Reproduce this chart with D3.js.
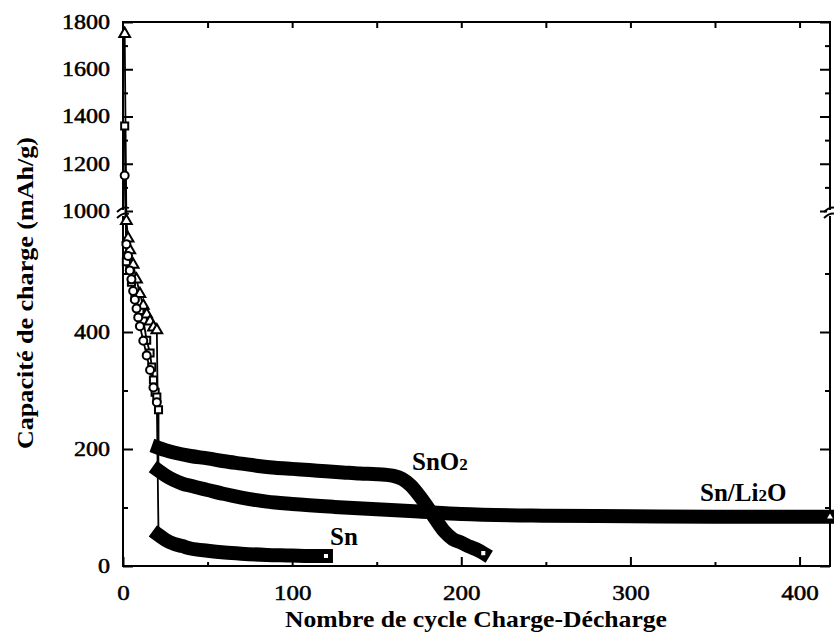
<!DOCTYPE html>
<html><head><meta charset="utf-8">
<script src="https://cdn.jsdelivr.net/npm/d3@7"></script>
<style>
body{margin:0;background:#fff} svg{display:block}
svg text{font-family:"Liberation Serif","Times New Roman",Times,serif !important;}
</style>
</head><body>
<svg id="chart" width="834" height="637"></svg>
<script>
// ---------- data ----------
const xTickValues = [0, 100, 200, 300, 400];
const xMinorTicks = [50, 150, 250, 350];
const topTicks = [50, 100, 150, 200, 250, 300, 350, 400];
const yTickValues = [0, 200, 400, 1000, 1200, 1400, 1600, 1800];
const yMinorTicks = [100, 300, 500, 1100, 1300, 1500, 1700];

// early cycles (open markers)
const snO2EarlyCycles = [1, 2, 4, 5, 7, 10, 12, 14, 16, 17, 18, 19, 20, 21];
const snO2EarlyValues = [1360, 520, 506, 485, 460, 437, 420, 386, 364, 340, 318, 297, 289, 267];
const snLi2OEarlyCycles = [1, 2, 3, 4, 6, 8, 10, 12, 14, 16, 18, 20];
const snLi2OEarlyValues = [1750, 590, 560, 540, 515, 490, 465, 445, 430, 418, 408, 403];
const snEarlyCycles = [1, 2, 3, 4, 5, 6, 7, 8, 9, 10, 12, 14, 16, 18, 20];
const snEarlyValues = [1150, 550, 530, 505, 490, 470, 455, 440, 425, 410, 385, 360, 335, 305, 280];

// long-term cycling (dense markers forming a band)
const snO2Cycles = [21, 25, 30, 40, 50, 60, 70, 80, 90, 100, 110, 120, 130, 140, 150, 155, 160, 165, 170, 175, 180, 185, 190, 195, 200, 205, 210, 213];
const snO2Values = [202, 198, 194, 188, 184, 179, 175, 171, 168, 166, 164, 162, 160, 158, 157, 156, 154, 149, 138, 121, 101, 79, 59, 46, 40, 33, 27, 22];
const snLi2OCycles = [21, 25, 30, 35, 40, 50, 60, 70, 85, 100, 125, 150, 175, 200, 250, 300, 350, 400, 418];
const snLi2OValues = [163, 155, 147, 141, 137, 130, 123, 117, 110, 106, 101, 97, 93, 89, 86, 85, 84, 84, 84];
const snCycles = [21, 25, 30, 35, 40, 50, 60, 70, 85, 100, 110, 120];
const snValues = [53, 45, 38, 34, 30, 26, 23, 21, 19, 18, 17, 17];

const xTitle = "Nombre de cycle Charge-Décharge";
const yTitle = "Capacité de charge (mAh/g)";

// ---------- drawing ----------
const svg = d3.select("#chart");
svg.append("rect").attr("width", 834).attr("height", 637).attr("fill", "#fff");
const FONT = "Liberation Serif";

const L = 123, R = 830, T = 22, B = 566;
const x = d3.scaleLinear().domain([0, 418]).range([L, R]);
// broken axis: 0-600 below, 1000-1800 above
const y = d3.scaleLinear().domain([0, 600, 1000, 1800]).range([B, 215, 211, T]);

const zip = (c, v) => c.map((d, i) => ({c: d, v: v[i]}));

// frame
svg.append("rect").attr("x", L).attr("y", T).attr("width", R - L).attr("height", B - T)
  .attr("fill", "none").attr("stroke", "#000").attr("stroke-width", 2);

function styleAxis(g) {
  g.attr("font-family", FONT);
  g.select(".domain").remove();
  g.selectAll(".tick line").attr("stroke", "#000").attr("stroke-width", 2);
}

// bottom
svg.append("g").attr("transform", `translate(0,${B})`)
  .call(d3.axisBottom(x).tickValues(xTickValues).tickSizeInner(-9).tickSizeOuter(0).tickPadding(19).tickFormat(d3.format("d")))
  .call(styleAxis)
  .call(g => g.selectAll("text").attr("font-family", FONT).attr("font-size", 21).attr("fill", "#000")
      .attr("stroke", "#000").attr("stroke-width", 0.5)
      .attr("textLength", function() { return this.textContent.length * 12.5; })
      .attr("lengthAdjust", "spacingAndGlyphs"));
svg.append("g").attr("transform", `translate(0,${B})`)
  .call(d3.axisBottom(x).tickValues(xMinorTicks).tickSizeInner(-4).tickSizeOuter(0).tickFormat(""))
  .call(styleAxis);
// top
svg.append("g").attr("transform", `translate(0,${T})`)
  .call(d3.axisTop(x).tickValues(topTicks).tickSizeInner(-6).tickSizeOuter(0).tickFormat(""))
  .call(styleAxis);
// left
svg.append("g").attr("transform", `translate(${L},0)`)
  .call(d3.axisLeft(y).tickValues(yTickValues).tickSizeInner(-10).tickSizeOuter(0).tickPadding(13).tickFormat(d3.format("d")))
  .call(styleAxis)
  .call(g => g.selectAll("text").attr("font-family", FONT).attr("font-size", 20).attr("fill", "#000")
      .attr("stroke", "#000").attr("stroke-width", 0.5)
      .attr("textLength", function() { return this.textContent.length * 12; })
      .attr("lengthAdjust", "spacingAndGlyphs"));
svg.append("g").attr("transform", `translate(${L},0)`)
  .call(d3.axisLeft(y).tickValues(yMinorTicks).tickSizeInner(-5).tickSizeOuter(0).tickFormat(""))
  .call(styleAxis);
// right
svg.append("g").attr("transform", `translate(${R},0)`)
  .call(d3.axisRight(y).tickValues(yTickValues).tickSizeInner(-10).tickSizeOuter(0).tickFormat(""))
  .call(styleAxis);
svg.append("g").attr("transform", `translate(${R},0)`)
  .call(d3.axisRight(y).tickValues(yMinorTicks).tickSizeInner(-5).tickSizeOuter(0).tickFormat(""))
  .call(styleAxis);

// axis break marks
const yb = (y(600) + y(1000)) / 2;
[L, R].forEach(ax => {
  svg.append("rect").attr("x", ax - 3).attr("y", yb - 3).attr("width", 6).attr("height", 6).attr("fill", "#fff");
  [-3, 3].forEach(o => svg.append("path")
    .attr("d", `M${ax - 6},${yb + o + 2} Q${ax},${yb + o - 4} ${ax + 6},${yb + o - 2}`)
    .attr("fill", "none").attr("stroke", "#000").attr("stroke-width", 1.8));
});

// thin connecting lines for early cycles
const thin = d3.line().x(d => x(d.c)).y(d => y(d.v));
const early = [
  {pts: zip(snO2EarlyCycles, snO2EarlyValues), next: {c: snO2Cycles[0], v: snO2Values[0]}, sym: d3.symbolSquare},
  {pts: zip(snLi2OEarlyCycles, snLi2OEarlyValues), next: {c: snLi2OCycles[0], v: snLi2OValues[0]}, sym: d3.symbolTriangle},
  {pts: zip(snEarlyCycles, snEarlyValues), next: {c: snCycles[0], v: snValues[0]}, sym: d3.symbolCircle}
];
early.forEach(s => {
  svg.append("path").attr("d", thin(s.pts.concat([s.next]))).attr("fill", "none")
    .attr("stroke", "#000").attr("stroke-width", 1.8);
});

// dense bands
const band = d3.line().x(d => x(d.c)).y(d => y(d.v)).curve(d3.curveMonotoneX);
const bands = [
  {pts: zip(snO2Cycles, snO2Values), sym: d3.symbolSquare},
  {pts: zip(snLi2OCycles, snLi2OValues), sym: d3.symbolTriangle},
  {pts: zip(snCycles, snValues), sym: d3.symbolSquare}
];
bands.forEach(s => {
  svg.append("path").attr("d", band(s.pts)).attr("fill", "none")
    .attr("stroke", "#000").attr("stroke-width", 14).attr("stroke-linecap", "square").attr("stroke-linejoin", "round");
});

// early open markers
early.forEach(s => {
  svg.append("g").selectAll("path").data(s.pts).join("path")
    .attr("transform", d => `translate(${x(d.c)},${y(d.v)})`)
    .attr("d", d3.symbol().type(s.sym).size(50))
    .attr("fill", "#fff").attr("stroke", "#000").attr("stroke-width", 2);
});
// last markers of bands
bands.forEach(s => {
  const d = s.pts[s.pts.length - 1];
  svg.append("path").attr("transform", `translate(${x(d.c)},${y(d.v)})`)
    .attr("d", d3.symbol().type(s.sym).size(30))
    .attr("fill", "#fff").attr("stroke", "#000").attr("stroke-width", 1.4);
});

// series labels
function label(xp, yp, parts) {
  const t = svg.append("text").attr("x", xp).attr("y", yp).attr("font-family", FONT)
    .attr("font-weight", "bold").attr("fill", "#000");
  parts.forEach(p => t.append("tspan").attr("font-size", p[1]).text(p[0]));
}
label(412, 470, [["SnO", 25], ["2", 17]]);
label(700, 501, [["Sn/Li", 25], ["2", 17], ["O", 25]]);
label(330, 545, [["Sn", 25]]);

// axis titles
svg.append("text").attr("x", 476).attr("y", 627).attr("text-anchor", "middle")
  .attr("font-family", FONT).attr("font-weight", "bold").attr("font-size", 24)
  .attr("textLength", 382).attr("lengthAdjust", "spacingAndGlyphs").text(xTitle);
svg.append("text").attr("transform", "translate(33,293) rotate(-90)").attr("text-anchor", "middle")
  .attr("font-family", FONT).attr("font-weight", "bold").attr("font-size", 24)
  .attr("textLength", 312).attr("lengthAdjust", "spacingAndGlyphs").text(yTitle);
</script>
</body></html>
